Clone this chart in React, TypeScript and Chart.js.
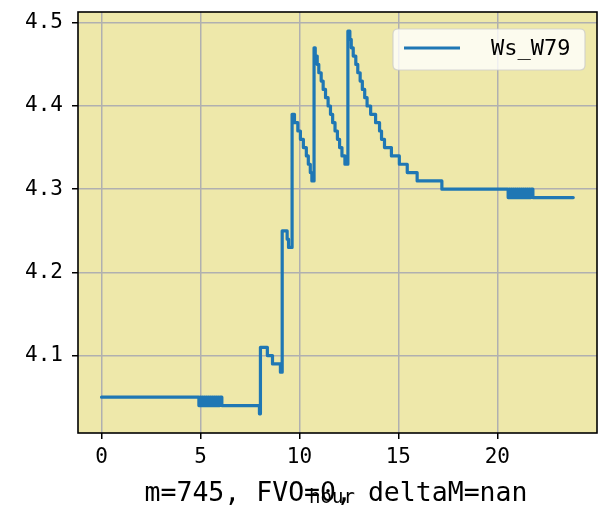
import React, { useEffect, useRef } from "react";
import { Chart, registerables } from "chart.js";

Chart.register(...registerables);

const seriesName = "Ws_W79";
const xLabel = "hour";
const footerText = "m=745, FVO=0, deltaM=nan";
const xTicks = [0, 5, 10, 15, 20];
const yTicks = [4.1, 4.2, 4.3, 4.4, 4.5];

// step start times (hour) and the value held from that time on
const hours = [
  0,
  4.92, 4.97, 5.02, 5.07, 5.12, 5.17, 5.22, 5.27, 5.32, 5.37, 5.42, 5.47,
  5.52, 5.57, 5.62, 5.67, 5.72, 5.77, 5.82, 5.87, 5.92, 5.97, 6.02, 6.08,
  7.98, 8.03, 8.38, 8.64, 9.04, 9.13, 9.38, 9.45,
  9.63, 9.75, 9.92, 10.05, 10.2, 10.35, 10.45, 10.55, 10.63,
  10.74, 10.8, 10.9, 10.98, 11.1, 11.2, 11.32, 11.45, 11.57, 11.68, 11.8,
  11.92, 12.03, 12.15, 12.3,
  12.45, 12.55, 12.62, 12.72, 12.85, 12.95, 13.07, 13.18, 13.3, 13.42,
  13.6, 13.85, 14.05, 14.15, 14.3, 14.65, 15.05, 15.45, 15.95, 17.2,
  20.55, 20.6, 20.65, 20.7, 20.75, 20.8, 20.85, 20.9, 20.95, 21.0, 21.05,
  21.1, 21.15, 21.2, 21.25, 21.3, 21.35, 21.4, 21.45, 21.5, 21.55, 21.6,
  21.65, 21.7, 21.8,
  23.84,
];
const speeds = [
  4.05,
  4.04, 4.05, 4.04, 4.05, 4.04, 4.05, 4.04, 4.05, 4.04, 4.05, 4.04, 4.05,
  4.04, 4.05, 4.04, 4.05, 4.04, 4.05, 4.04, 4.05, 4.04, 4.05, 4.05, 4.04,
  4.03, 4.11, 4.10, 4.09, 4.08, 4.25, 4.24, 4.23,
  4.39, 4.38, 4.37, 4.36, 4.35, 4.34, 4.33, 4.32, 4.31,
  4.47, 4.46, 4.45, 4.44, 4.43, 4.42, 4.41, 4.40, 4.39, 4.38, 4.37,
  4.36, 4.35, 4.34, 4.33,
  4.49, 4.48, 4.47, 4.46, 4.45, 4.44, 4.43, 4.42, 4.41, 4.40,
  4.39, 4.38, 4.37, 4.36, 4.35, 4.34, 4.33, 4.32, 4.31, 4.30,
  4.29, 4.30, 4.29, 4.30, 4.29, 4.30, 4.29, 4.30, 4.29, 4.30, 4.29,
  4.30, 4.29, 4.30, 4.29, 4.30, 4.29, 4.30, 4.29, 4.30, 4.29, 4.30,
  4.29, 4.30, 4.29,
  4.29,
];

const X_MIN = -1.19;
const X_MAX = 25.04;
const Y_MIN = 4.007;
const Y_MAX = 4.513;

const LINE_COLOR = "#1f77b4";
const AXES_BG = "#eee8aa";
const MONO = "'DejaVu Sans Mono', monospace";

const decorPlugin = {
  id: "decor",
  beforeDraw(chart: any) {
    const { ctx, chartArea: a } = chart;
    ctx.save();
    ctx.fillStyle = "#ffffff";
    ctx.fillRect(0, 0, chart.width, chart.height);
    ctx.fillStyle = AXES_BG;
    ctx.fillRect(a.left, a.top, a.right - a.left, a.bottom - a.top);
    ctx.restore();
  },
  afterDatasetsDraw(chart: any) {
    const { ctx, chartArea: a } = chart;
    ctx.save();
    // frame
    ctx.strokeStyle = "#000";
    ctx.lineWidth = 1.6;
    ctx.strokeRect(a.left, a.top, a.right - a.left, a.bottom - a.top);

    // legend
    const lx = 393, ly = 29, lw = 192, lh = 41, r = 5;
    ctx.beginPath();
    ctx.moveTo(lx + r, ly);
    ctx.lineTo(lx + lw - r, ly);
    ctx.quadraticCurveTo(lx + lw, ly, lx + lw, ly + r);
    ctx.lineTo(lx + lw, ly + lh - r);
    ctx.quadraticCurveTo(lx + lw, ly + lh, lx + lw - r, ly + lh);
    ctx.lineTo(lx + r, ly + lh);
    ctx.quadraticCurveTo(lx, ly + lh, lx, ly + lh - r);
    ctx.lineTo(lx, ly + r);
    ctx.quadraticCurveTo(lx, ly, lx + r, ly);
    ctx.closePath();
    ctx.fillStyle = "rgba(255,255,255,0.8)";
    ctx.fill();
    ctx.strokeStyle = "rgba(204,204,204,0.8)";
    ctx.lineWidth = 1.2;
    ctx.stroke();

    ctx.strokeStyle = LINE_COLOR;
    ctx.lineWidth = 3.2;
    ctx.beginPath();
    ctx.moveTo(404, ly + 19);
    ctx.lineTo(460, ly + 19);
    ctx.stroke();

    ctx.fillStyle = "#000";
    ctx.font = `22px ${MONO}`;
    ctx.textAlign = "left";
    ctx.textBaseline = "middle";
    ctx.fillText(seriesName, 491, ly + 20);

    // x label and footer text
    ctx.textAlign = "center";
    ctx.textBaseline = "alphabetic";
    ctx.font = `19px ${MONO}`;
    ctx.fillText(xLabel, 332, 503);
    ctx.font = `26.5px ${MONO}`;
    ctx.fillText(footerText, 336, 501);
    ctx.restore();
  },
};

export default function App() {
  const canvasRef = useRef<HTMLCanvasElement | null>(null);

  useEffect(() => {
    const canvas = canvasRef.current;
    if (!canvas) return;
    const points = hours.map((h, i) => ({ x: h, y: speeds[i] }));
    const chart = new Chart(canvas, {
      type: "line",
      data: {
        datasets: [
          {
            label: seriesName,
            data: points,
            stepped: "before",
            borderColor: LINE_COLOR,
            backgroundColor: LINE_COLOR,
            borderWidth: 3.2,
            borderJoinStyle: "round",
            borderCapStyle: "round",
            pointRadius: 0,
            fill: false,
          },
        ],
      },
      options: {
        animation: false,
        responsive: false,
        devicePixelRatio: 1,
        layout: { padding: { left: 0, right: 3, top: 12, bottom: 0 } },
        plugins: {
          legend: { display: false },
          tooltip: { enabled: false },
        },
        scales: {
          x: {
            type: "linear",
            min: X_MIN,
            max: X_MAX,
            afterBuildTicks: (scale: any) => {
              scale.ticks = xTicks.map((v) => ({ value: v }));
            },
            afterFit: (scale: any) => {
              scale.height = 75;
              scale.paddingLeft = 0;
              scale.paddingRight = 0;
            },
            grid: {
              color: "#b0b0b0",
              lineWidth: 1.5,
              tickColor: "#000",
              tickWidth: 1.5,
              tickLength: 6,
            },
            border: { display: false },
            ticks: {
              color: "#000",
              font: { family: MONO, size: 21 },
              padding: 6,
              maxRotation: 0,
              autoSkip: false,
              callback: (v: any) => String(v),
            },
          },
          y: {
            type: "linear",
            min: Y_MIN,
            max: Y_MAX,
            afterBuildTicks: (scale: any) => {
              scale.ticks = yTicks.map((v) => ({ value: v }));
            },
            afterFit: (scale: any) => {
              scale.width = 78;
              scale.paddingTop = 0;
              scale.paddingBottom = 0;
            },
            grid: {
              color: "#b0b0b0",
              lineWidth: 1.5,
              tickColor: "#000",
              tickWidth: 1.5,
              tickLength: 6,
            },
            border: { display: false },
            ticks: {
              color: "#000",
              font: { family: MONO, size: 21 },
              padding: 9,
              autoSkip: false,
              callback: (v: any) => Number(v).toFixed(1),
            },
          },
        },
      },
      plugins: [decorPlugin],
    });
    return () => chart.destroy();
  }, []);

  return (
    <div style={{ position: "fixed", left: 0, top: 0, width: 600, height: 508 }}>
      <canvas ref={canvasRef} width={600} height={508} style={{ display: "block", width: 600, height: 508 }} />
    </div>
  );
}
